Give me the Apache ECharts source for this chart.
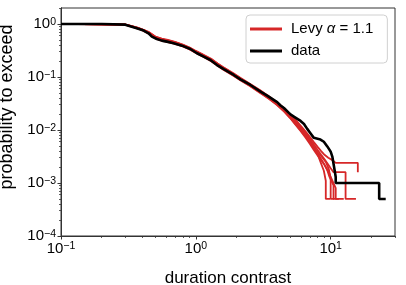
<!DOCTYPE html>
<html><head><meta charset="utf-8">
<script src="https://cdn.jsdelivr.net/npm/echarts@6/dist/echarts.min.js"></script>
<style>html,body{margin:0;padding:0;background:#fff}#c{width:406px;height:285px}</style>
</head><body><div id="c"></div>
<script>
const FONT = 'Liberation Sans, Arial, Helvetica, sans-serif';
const xMajorTicks = [0.1, 1, 10];
const xMinorTicks = [0.2,0.3,0.4,0.5,0.6,0.7,0.8,0.9,2,3,4,5,6,7,8,9,20,30];
const yMajorTicks = [0.0001, 0.001, 0.01, 0.1, 1];
const yMinorTicks = [0.0002,0.0003,0.0004,0.0005,0.0006,0.0007,0.0008,0.0009,
  0.002,0.003,0.004,0.005,0.006,0.007,0.008,0.009,
  0.02,0.03,0.04,0.05,0.06,0.07,0.08,0.09,
  0.2,0.3,0.4,0.5,0.6,0.7,0.8,0.9,2];

const dataCCDF = [[0.1,1.0],[0.2,0.995],[0.3,0.97],[0.335,0.89],[0.365,0.83],[0.41,0.75],[0.446,0.667],[0.472,0.577],[0.514,0.521],[0.56,0.485],[0.61,0.464],[0.684,0.432],[0.789,0.39],[0.91,0.337],[1.02,0.28],[1.143,0.242],[1.28,0.209],[1.436,0.168],[1.61,0.14],[1.91,0.109],[2.14,0.0904],[2.54,0.0706],[3.02,0.0528],[3.38,0.0445],[4.01,0.0335],[4.25,0.029],[4.5,0.026],[4.9,0.021],[5.1,0.0192],[5.4,0.0175],[5.98,0.0148],[6.34,0.013],[6.7,0.0105],[7.1,0.0086],[7.5,0.0071],[8.4,0.0066],[8.9,0.006],[9.44,0.0049],[10.0,0.0039],[10.3,0.0031],[10.6,0.002],[10.9,0.0013],[10.9,0.001],[22.9,0.001],[22.9,0.0005],[25.6,0.0005]];

const levy1 = [[0.1,1.0],[0.3,0.975],[0.34,0.9],[0.37,0.845],[0.41,0.77],[0.45,0.69],[0.5,0.575],[0.56,0.52],[0.62,0.49],[0.7,0.455],[0.8,0.405],[0.9,0.355],[1.0,0.305],[1.15,0.255],[1.3,0.215],[1.45,0.178],[1.6,0.15],[1.9,0.115],[2.15,0.094],[2.5,0.074],[3.0,0.055],[3.5,0.041],[4.0,0.031],[4.5,0.024],[5.0,0.018],[5.5,0.0138],[6.0,0.0108],[6.5,0.0084],[7.0,0.0064],[7.5,0.0048],[8.0,0.0035],[8.4,0.0025],[8.9,0.0017],[9.2,0.0011],[9.2,0.0005],[9.9,0.0005]];
const levy2 = [[0.1,1.0],[0.3,0.965],[0.34,0.88],[0.37,0.82],[0.41,0.74],[0.45,0.65],[0.5,0.535],[0.56,0.478],[0.62,0.452],[0.7,0.42],[0.8,0.378],[0.9,0.33],[1.0,0.283],[1.15,0.236],[1.3,0.198],[1.45,0.163],[1.6,0.137],[1.9,0.105],[2.15,0.086],[2.5,0.068],[3.0,0.05],[3.5,0.039],[4.0,0.0305],[4.5,0.0235],[5.0,0.0178],[5.5,0.0135],[6.0,0.0102],[6.5,0.0078],[7.0,0.006],[7.5,0.0046],[8.0,0.0036],[8.5,0.0028],[9.0,0.0022],[9.4,0.0018],[9.8,0.0015],[10.0,0.0013],[10.9,0.0008],[10.9,0.0005],[12.5,0.0005]];
const levy3 = [[0.1,1.0],[0.3,0.98],[0.34,0.905],[0.37,0.85],[0.41,0.775],[0.45,0.7],[0.5,0.58],[0.56,0.53],[0.62,0.5],[0.7,0.46],[0.8,0.41],[0.9,0.36],[1.0,0.31],[1.15,0.258],[1.3,0.22],[1.45,0.18],[1.6,0.152],[1.9,0.117],[2.15,0.096],[2.5,0.075],[3.0,0.056],[3.5,0.043],[4.0,0.033],[4.5,0.026],[5.0,0.02],[5.5,0.0155],[6.0,0.012],[6.5,0.0094],[7.0,0.0074],[7.5,0.0059],[8.0,0.0048],[8.5,0.004],[9.0,0.0034],[9.6,0.003],[10.3,0.0027],[10.9,0.0024],[15.9,0.0024],[15.9,0.0016]];
const levy4 = [[0.1,1.0],[0.3,0.97],[0.34,0.89],[0.37,0.835],[0.41,0.76],[0.45,0.675],[0.5,0.56],[0.56,0.5],[0.62,0.47],[0.7,0.44],[0.8,0.395],[0.9,0.345],[1.0,0.295],[1.15,0.247],[1.3,0.208],[1.45,0.172],[1.6,0.144],[1.9,0.111],[2.15,0.091],[2.5,0.071],[3.0,0.053],[3.5,0.041],[4.0,0.032],[4.5,0.0245],[5.0,0.0188],[5.5,0.0145],[6.0,0.0112],[6.5,0.0088],[7.0,0.0068],[7.5,0.0053],[8.0,0.0042],[8.5,0.0034],[9.0,0.0028],[9.5,0.0023],[10.0,0.0019],[10.5,0.0016],[12.9,0.0016],[12.9,0.0005],[15.4,0.0005]];
const levy5 = [[0.1,1.0],[0.3,0.968],[0.34,0.885],[0.37,0.83],[0.41,0.75],[0.45,0.665],[0.5,0.55],[0.56,0.49],[0.62,0.462],[0.7,0.43],[0.8,0.385],[0.9,0.338],[1.0,0.29],[1.15,0.242],[1.3,0.204],[1.45,0.168],[1.6,0.14],[1.9,0.107],[2.15,0.088],[2.5,0.069],[3.0,0.051],[3.5,0.0385],[4.0,0.0295],[4.5,0.0225],[5.0,0.0168],[5.5,0.0125],[6.0,0.0095],[6.5,0.0072],[7.0,0.0055],[7.5,0.0042],[8.0,0.0033],[8.5,0.0027],[9.0,0.0022],[9.4,0.0018],[9.8,0.0013],[10.5,0.0009],[10.5,0.0005],[11.5,0.0005]];
const levy6 = [[0.1,1.0],[0.3,0.972],[0.34,0.895],[0.37,0.84],[0.41,0.765],[0.45,0.68],[0.5,0.565],[0.56,0.51],[0.62,0.48],[0.7,0.448],[0.8,0.4],[0.9,0.35],[1.0,0.3],[1.15,0.25],[1.3,0.212],[1.45,0.175],[1.6,0.147],[1.9,0.113],[2.15,0.093],[2.5,0.072],[3.0,0.054],[3.5,0.04],[4.0,0.03],[4.5,0.0228],[5.0,0.017],[5.5,0.0128],[6.0,0.0098],[6.5,0.0076],[7.0,0.0059],[7.5,0.0047],[8.0,0.0038],[8.6,0.0031],[9.2,0.0025],[9.7,0.0018],[10.0,0.0012],[10.0,0.0005],[10.6,0.0005]];
const levyRuns = [levy1, levy2, levy3, levy4, levy5, levy6];

const LEVY = 'levy';
const DATA = 'data';
const AXIS_COLOR = '#333';

function powLabel(v) {
  const e = Math.round(Math.log10(v));
  return '{b|10}{s|' + (e < 0 ? '\u2212' + (-e) : String(e)) + '}';
}
const tickRich = {
  b: {fontSize: 15, lineHeight: 15, padding: [8, 0, 0, 0], verticalAlign: 'bottom', fontFamily: FONT, color: '#000'},
  s: {fontSize: 10.5, lineHeight: 10, verticalAlign: 'top', fontFamily: FONT, color: '#000'}
};

function majorAxis(extra) {
  return Object.assign({
    type: 'log', logBase: 10,
    axisLine: {show: true, lineStyle: {color: AXIS_COLOR, width: 1}},
    splitLine: {show: false}, minorTick: {show: false}, minorSplitLine: {show: false}
  }, extra);
}
function minorAxis(extra) {
  return Object.assign({
    type: 'log', logBase: 10,
    axisLine: {show: true, lineStyle: {color: AXIS_COLOR, width: 1}}, axisLabel: {show: false},
    splitLine: {show: false}, minorTick: {show: false}
  }, extra);
}

const series = levyRuns.map(run => ({
  name: LEVY, type: 'line', data: run, showSymbol: false, symbol: 'none',
  lineStyle: {color: '#d62728', width: 1.8}, itemStyle: {color: '#d62728'},
  xAxisIndex: 0, yAxisIndex: 0, z: 2, silent: true
}));
series.push({
  name: DATA, type: 'line', data: dataCCDF, showSymbol: false, symbol: 'none',
  lineStyle: {color: '#000', width: 2.6}, itemStyle: {color: '#000'},
  xAxisIndex: 0, yAxisIndex: 0, z: 3, silent: true
});

const chart = echarts.init(document.getElementById('c'), null, {renderer: 'canvas'});
chart.setOption({
  animation: false,
  backgroundColor: '#fff',
  grid: {left: 61, top: 8, right: 11, bottom: 49, show: true, borderColor: AXIS_COLOR, borderWidth: 1,
    backgroundColor: 'transparent', containLabel: false, outerBoundsMode: 'none'},
  legend: {
    data: [{name: LEVY}, {name: DATA}],
    orient: 'vertical', left: 246, top: 15,
    icon: 'rect', itemWidth: 32, itemHeight: 3, itemGap: 6,
    padding: [6, 14, 4, 4],
    backgroundColor: '#fff', borderColor: '#d0d0d0', borderWidth: 1, borderRadius: 4,
    selectedMode: false,
    formatter: n => n === LEVY ? 'Levy {i|\u03b1} = 1.1' : 'data',
    textStyle: {fontSize: 15, lineHeight: 16, fontFamily: FONT, color: '#000', padding: [0, 0, 0, 4],
      rich: {i: {fontSize: 15, fontStyle: 'italic', fontFamily: FONT, color: '#000'}}}
  },
  xAxis: [
    majorAxis({min: 0.1, max: 30, position: 'bottom',
      axisTick: {show: true, length: 3.5, customValues: xMajorTicks, lineStyle: {color: AXIS_COLOR, width: 1}},
      axisLabel: {show: true, customValues: xMajorTicks, formatter: powLabel, rich: tickRich, margin: 5},
      name: 'duration contrast', nameLocation: 'middle', nameGap: 34,
      nameTextStyle: {fontSize: 17, color: '#000', fontFamily: FONT}}),
    minorAxis({min: 0.1, max: 30, position: 'bottom', offset: 0,
      axisTick: {show: true, length: 2, customValues: xMinorTicks, lineStyle: {color: AXIS_COLOR, width: 0.8}}})
  ],
  yAxis: [
    majorAxis({min: 0.0001, max: 2, position: 'left',
      axisTick: {show: true, length: 3.5, customValues: yMajorTicks, lineStyle: {color: AXIS_COLOR, width: 1}},
      axisLabel: {show: true, customValues: yMajorTicks, formatter: powLabel, rich: tickRich, margin: 5},
      name: 'probability to exceed', nameLocation: 'middle', nameGap: 31,
      nameTextStyle: {fontSize: 18, color: '#000', fontFamily: FONT, padding: [0, 0, 0, 30]}}),
    minorAxis({min: 0.0001, max: 2, position: 'left', offset: 0,
      axisTick: {show: true, length: 2, customValues: yMinorTicks, lineStyle: {color: AXIS_COLOR, width: 0.8}}})
  ],
  series: series
});
</script>
</body></html>
